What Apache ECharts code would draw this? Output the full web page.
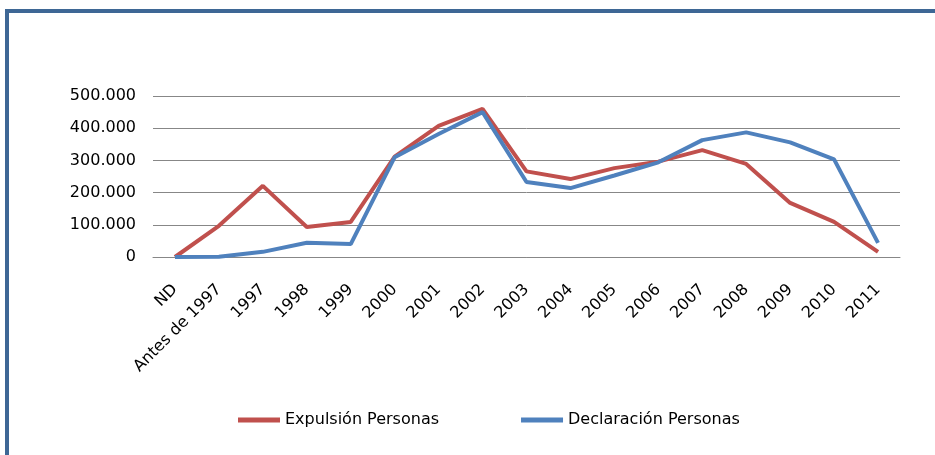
<!DOCTYPE html>
<html>
<head>
<meta charset="utf-8">
<script src="https://cdn.jsdelivr.net/npm/echarts@6/dist/echarts.min.js"></script>
<style>
html,body{margin:0;padding:0;background:#fff;}
#chart{width:935px;height:455px;}
</style>
</head>
<body>
<div id="chart"></div>
<script>
var categories = ['ND','Antes de 1997','1997','1998','1999','2000','2001','2002','2003','2004','2005','2006','2007','2008','2009','2010','2011'];
var expulsion = [0, 97000, 221000, 93000, 109000, 312000, 407000, 460000, 266000, 242000, 276000, 296000, 332000, 289000, 168000, 109000, 16000];
var declaracion = [0, 1000, 16000, 44000, 40000, 310000, 382000, 450000, 233000, 214000, 253000, 294000, 363000, 387000, 356000, 303000, 44000];
var seriesNames = ['Expulsión Personas', 'Declaración Personas'];
var yTicks = {min: 0, max: 500000, interval: 100000};

function fmt(v){
  return String(v).replace(/\B(?=(\d{3})+(?!\d))/g, '.');
}

var chart = echarts.init(document.getElementById('chart'), null, {renderer: 'canvas'});
var font = 'DejaVu Sans';
chart.setOption({
  animation: false,
  backgroundColor: '#ffffff',
  graphic: [{
    type: 'rect',
    shape: {x: 7, y: 11, width: 1000, height: 1000},
    style: {fill: 'none', stroke: '#3e6795', lineWidth: 4}
  }],
  grid: {left: 153, right: 35, top: 96, bottom: 198, containLabel: false},
  legend: {
    left: 233,
    top: 407,
    itemWidth: 42,
    itemHeight: 5,
    itemGap: 82,
    icon: 'rect',
    textStyle: {fontFamily: font, fontSize: 16, color: '#000'},
    data: seriesNames
  },
  xAxis: {
    type: 'category',
    data: categories,
    boundaryGap: true,
    axisLine: {show: true, lineStyle: {color: '#878787', width: 1}},
    axisTick: {show: false},
    axisLabel: {rotate: 45, margin: 30, interval: 0, fontFamily: font, fontSize: 16, color: '#000'}
  },
  yAxis: {
    type: 'value',
    min: yTicks.min,
    max: yTicks.max,
    interval: yTicks.interval,
    axisLine: {show: false},
    axisTick: {show: false},
    splitLine: {lineStyle: {color: '#878787', width: 1}},
    axisLabel: {margin: 17, fontFamily: font, fontSize: 16, color: '#000', formatter: fmt}
  },
  series: [
    {name: seriesNames[0], type: 'line', data: expulsion, showSymbol: false, symbol: 'none',
     lineStyle: {color: '#c0504d', width: 4}, itemStyle: {color: '#c0504d'}},
    {name: seriesNames[1], type: 'line', data: declaracion, showSymbol: false, symbol: 'none',
     lineStyle: {color: '#4f81bd', width: 4}, itemStyle: {color: '#4f81bd'}}
  ]
});
</script>
</body>
</html>
